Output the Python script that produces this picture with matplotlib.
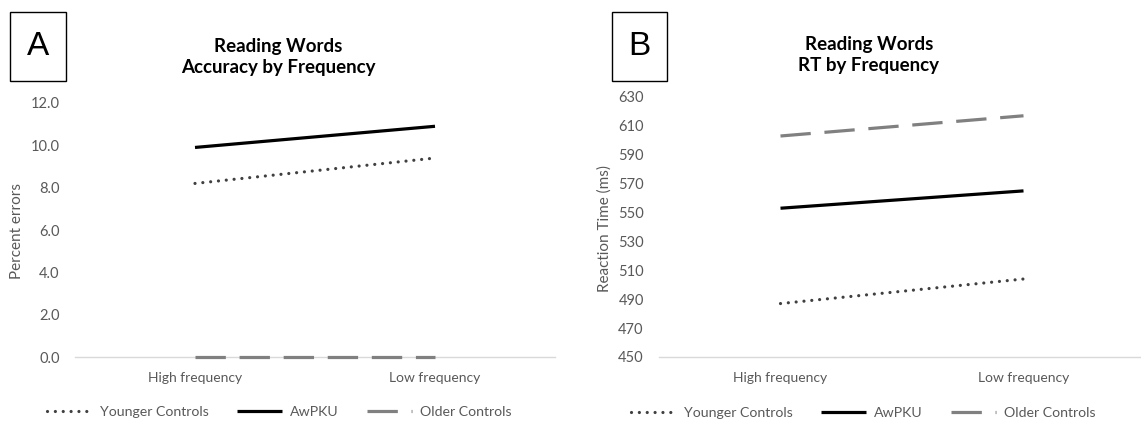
import matplotlib
matplotlib.use('Agg')
import matplotlib.pyplot as plt
from matplotlib.patches import Rectangle

plt.rcParams['font.family'] = ['Lato', 'DejaVu Sans']

# data
categories = ['High frequency', 'Low frequency']
series = ['Younger Controls', 'AwPKU', 'Older Controls']

acc_younger = [8.2, 9.4]
acc_awpku = [9.9, 10.9]
acc_older = [0.0, 0.0]

rt_younger = [487, 504]
rt_awpku = [553, 565]
rt_older = [603, 617]

acc_ticks = [0, 2, 4, 6, 8, 10, 12]
rt_ticks = [450, 470, 490, 510, 530, 550, 570, 590, 610, 630]

styles = {
    'Younger Controls': dict(color='#404040', lw=2.3, linestyle=(0, (0.01, 2.45)),
                             dash_capstyle='round'),
    'AwPKU': dict(color='black', lw=2.3, linestyle='-', solid_capstyle='butt'),
    'Older Controls': dict(color='#808080', lw=2.3, linestyle=(0, (9.5, 4.3)),
                           dash_capstyle='butt'),
}

grey = '#595959'

fig = plt.figure(figsize=(11.41, 4.23), dpi=100)
W, H = 1141, 423


def px_axes(x0, x1, ybot, ytop):
    return fig.add_axes([x0 / W, 1 - ybot / H, (x1 - x0) / W, (ybot - ytop) / H])


def style_axes(ax, ticks, fmt):
    x = range(len(categories))
    ax.set_xlim(-0.5, len(categories) - 0.5)
    ax.set_xticks(list(x))
    ax.set_xticklabels(categories)
    ax.set_ylim(ticks[0], ticks[-1])
    ax.set_yticks(ticks)
    ax.set_yticklabels([fmt.format(t) for t in ticks])
    for s in ['top', 'right', 'left']:
        ax.spines[s].set_visible(False)
    ax.spines['bottom'].set_color('#d9d9d9')
    ax.spines['bottom'].set_linewidth(1.0)
    ax.tick_params(axis='both', length=0, colors=grey)
    ax.tick_params(axis='y', pad=11, labelsize=10.5)
    ax.tick_params(axis='x', pad=11, labelsize=10)


def draw(ax, data):
    x = range(len(categories))
    for name, vals in zip(series, data):
        ax.plot(list(x), vals, label=name, clip_on=False, zorder=3, **styles[name])


def add_legend(ax, xc):
    ax.legend(loc='center', bbox_to_anchor=(xc, -0.215), ncol=3, frameon=False,
              fontsize=10.2, labelcolor=grey, handlelength=3.2, handletextpad=0.55,
              columnspacing=2.0)


# panel A
axA = px_axes(75, 555, 357, 103)
draw(axA, [acc_younger, acc_awpku, acc_older])
style_axes(axA, acc_ticks, '{:.1f}')
add_legend(axA, 0.425)

# panel B
axB = px_axes(659, 1145, 357, 97)
draw(axB, [rt_younger, rt_awpku, rt_older])
style_axes(axB, rt_ticks, '{:d}')
add_legend(axB, 0.42)

# titles
fig.text(278 / W, 1 - 57 / H, 'Reading Words\nAccuracy by Frequency', ha='center',
         va='center', fontsize=13.5, fontweight='bold', linespacing=1.3)
fig.text(869 / W, 1 - 55 / H, 'Reading Words\nRT by Frequency', ha='center',
         va='center', fontsize=13.5, fontweight='bold', linespacing=1.3)

# y labels
fig.text(17 / W, 1 - 231 / H, 'Percent errors', rotation=90, ha='center', va='center',
         fontsize=11, color=grey)
fig.text(605 / W, 1 - 228 / H, 'Reaction Time (ms)', rotation=90, ha='center',
         va='center', fontsize=11, color=grey)

# panel letters in boxes
for letter, x0, x1 in [('A', 10, 66), ('B', 612, 667)]:
    fig.patches.append(Rectangle((x0 / W, 1 - 81 / H), (x1 - x0) / W, 69 / H,
                                 transform=fig.transFigure, fill=False,
                                 edgecolor='black', lw=1.0))
    fig.text((x0 + x1) / 2 / W, 1 - 46.5 / H, letter, ha='center', va='center',
             fontsize=24, family='Liberation Sans')

fig.savefig('out.png', dpi=100)
